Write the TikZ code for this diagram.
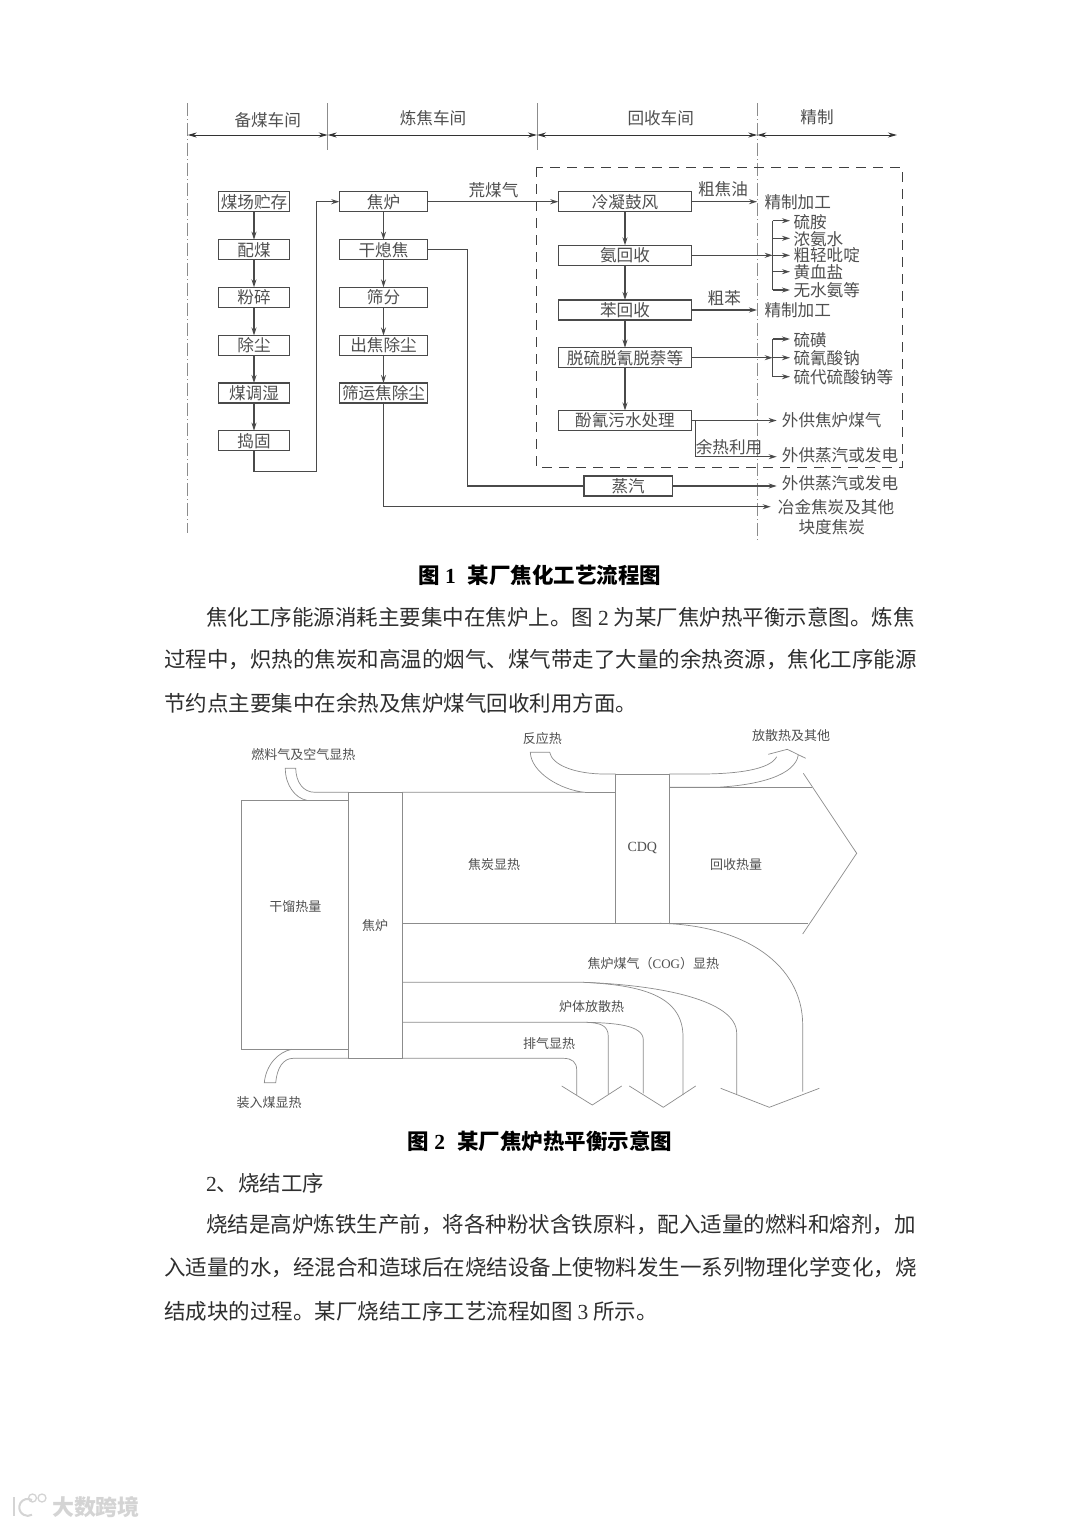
\documentclass[tikz,border=0pt]{standalone}
\usepackage{fontspec}
\setmainfont{Noto Sans CJK SC}
\newfontfamily\latinf{Liberation Serif}
\usetikzlibrary{arrows.meta}
\definecolor{lnA}{HTML}{4A4A4A}
\definecolor{lnB}{HTML}{8C8C8C}
\definecolor{txA}{HTML}{2E2E2E}
\definecolor{txB}{HTML}{4F4F4F}
\definecolor{wm}{HTML}{D4D4D4}
\tikzset{
  x=1pt,y=-1pt,
  proc/.style={draw=lnA,line width=1.2pt,minimum width=#1,minimum height=20pt,inner sep=0pt,outer sep=0pt,font=\fontsize{16.6}{17}\selectfont,text=txB},
  flow/.style={draw=lnA,line width=1.2pt,-{Stealth[length=8pt,width=5pt]}},
  plain/.style={draw=lnA,line width=1.2pt},
  both/.style={draw=black!80,line width=1pt,{Stealth[length=9pt,width=5pt]}-{Stealth[length=9pt,width=5pt]}},
  dd/.style={draw=lnB,line width=0.9pt,dash pattern=on 13pt off 3pt on 1pt off 3pt},
  lab/.style={font=\fontsize{16.6}{17}\selectfont,text=txB,inner sep=0pt},
  labl/.style={lab,anchor=west},
  sk/.style={draw=lnB,line width=0.7pt},
  sl/.style={font=\fontsize{13}{13}\selectfont,text=txB,inner sep=0pt},
  body/.style={font=\fontsize{21.5}{22}\selectfont,text=txA,inner sep=0pt,anchor=west},
  capt/.style={font=\fontsize{21.5}{22}\selectfont\bfseries,text=black,inner sep=0pt},
}
\begin{document}
\begin{tikzpicture}
\useasboundingbox[fill=white] (0,0) rectangle (1080,1527);
% ---- header
\coordinate (v1t) at (187.7,103); \coordinate (v1b) at (187.7,533);
\coordinate (v2t) at (327.7,103); \coordinate (v2b) at (327.7,150);
\coordinate (v3t) at (537,103);   \coordinate (v3b) at (537,150);
\coordinate (v4t) at (757.3,103); \coordinate (v4b) at (757.3,540);
\coordinate (h1) at (187.7,135); \coordinate (h2) at (327.7,135);
\coordinate (h3) at (537,135); \coordinate (h4) at (757.3,135); \coordinate (h5) at (897,135);
\draw[dd] (v1t)--(v1b);
\draw[dd] (v4t)--(v4b);
\draw[draw=lnB,line width=1pt] (v2t)--(v2b);
\draw[draw=lnB,line width=1pt] (v3t)--(v3b);
\draw[both] (h1)--(h2);
\draw[both] (h2)--(h3);
\draw[both] (h3)--(h4);
\draw[both] (h4)--(h5);
\node[lab] (t1) at (267.7,120) {备煤车间};
\node[lab] (t2) at (433,118) {炼焦车间};
\node[lab] (t3) at (660.7,118) {回收车间};
\node[lab] (t4) at (817,117) {精制};
% dashed box
\draw[draw=black!75,line width=0.9pt,dash pattern=on 10pt off 7pt] (536,167.3) rectangle (902.3,467.3);
% ---- column 1
\node[proc=71.4pt] (a1) at (254,201.7) {煤场贮存};
\node[proc=71.4pt] (a2) at (254,249.7) {配煤};
\node[proc=71.4pt] (a3) at (254,297.3) {粉碎};
\node[proc=71.4pt] (a4) at (254,345.5) {除尘};
\node[proc=71.4pt] (a5) at (254,393) {煤调湿};
\node[proc=71.4pt] (a6) at (254,440.7) {捣固};
\foreach \p/\q in {a1/a2,a2/a3,a3/a4,a4/a5,a5/a6} \draw[flow] (\p.south)--(\q.north);
% ---- column 2
\node[proc=88.4pt] (b1) at (383.5,201.7) {焦炉};
\node[proc=88.4pt] (b2) at (383.5,249.7) {干熄焦};
\node[proc=88.4pt] (b3) at (383.5,297.3) {筛分};
\node[proc=88.4pt] (b4) at (383.5,345.5) {出焦除尘};
\node[proc=88.4pt] (b5) at (383.5,393) {筛运焦除尘};
\foreach \p/\q in {b1/b2,b2/b3,b3/b4,b4/b5} \draw[flow] (\p.south)--(\q.north);
\draw[flow] (a6.south) |- (316.7,471.7) -- (316.7,201.7) -- (b1.west);
% ---- column 3
\node[proc=133.4pt] (c1) at (625,201.7) {冷凝鼓风};
\node[proc=133.4pt] (c2) at (625,255.3) {氨回收};
\node[proc=133.4pt] (c3) at (625,310) {苯回收};
\node[proc=133.4pt] (c4) at (625,357.7) {脱硫脱氰脱萘等};
\node[proc=133.4pt] (c5) at (625,420.5) {酚氰污水处理};
\foreach \p/\q in {c1/c2,c2/c3,c3/c4,c4/c5} \draw[flow] (\p.south)--(\q.north);
\draw[flow] (b1.east)--(c1.west);
\node[lab] (l0) at (493.5,190) {荒煤气};
\node[proc=88.3pt] (st) at (628.2,486) {蒸汽};
\draw[plain] (b2.east) -- (467.7,249.7) -- (467.7,486) -- (st.west);
% ---- right labels
\node[lab] (l1) at (723,189) {粗焦油};
\node[lab] (r1) at (797.7,201.7) {精制加工};
\coordinate (e1) at (757,201.7);
\draw[flow] (c1.east)--(e1);
\node[labl] (n1) at (793.3,222) {硫胺};
\node[labl] (n2) at (793.3,239.5) {浓氨水};
\node[labl] (n3) at (793.3,255.5) {粗轻吡啶};
\node[labl] (n4) at (793.3,272) {黄血盐};
\node[labl] (n5) at (793.3,290) {无水氨等};
\coordinate (bus1) at (772.7,255.3);
\draw[flow] (c2.east)--(bus1);
\draw[plain] (772.7,220.7)--(772.7,290);
\draw[flow] (772.7,220.7)--(790,220.7);
\draw[flow] (772.7,238.3)--(790,238.3);
\draw[flow] (bus1)--(790,255.3);
\draw[flow] (772.7,271.7)--(790,271.7);
\draw[flow] (772.7,290)--(790,290);
\node[lab] (l2) at (724.3,298) {粗苯};
\node[lab] (r2) at (797.7,310) {精制加工};
\coordinate (e2) at (757,310);
\draw[flow] (c3.east)--(e2);
\node[labl] (m1) at (793.3,340) {硫磺};
\node[labl] (m2) at (793.3,358) {硫氰酸钠};
\node[labl] (m3) at (793.3,377) {硫代硫酸钠等};
\coordinate (bus2) at (772.7,357.7);
\draw[flow] (c4.east)--(bus2);
\draw[plain] (772.7,339)--(772.7,376.7);
\draw[flow] (772.7,339)--(790,339);
\draw[flow] (bus2)--(790,357.7);
\draw[flow] (772.7,376.7)--(790,376.7);
\node[labl] (o1) at (781.7,420.5) {外供焦炉煤气};
\node[lab] (l3) at (729,446.7) {余热利用};
\node[labl] (o2) at (781.7,455) {外供蒸汽或发电};
\node[labl] (o3) at (781.7,483.3) {外供蒸汽或发电};
\node[lab] (o4) at (836,507.3) {冶金焦炭及其他};
\node[lab] (o5) at (831.7,527.3) {块度焦炭};
\coordinate (e3) at (776.7,420.5);
\draw[flow] (c5.east)--(e3);
\draw[flow] (695.3,420.5)--(695.3,456.7)--(776.7,456.7);
\draw[flow] (st.east)--(776.7,486);
\draw[flow] (b5.south)--(383.5,506.7)--(770.7,506.7);
% ---- captions and body
\node[capt] (cap1) at (540,575) {图\hspace{5pt}{\latinf\bfseries 1}\hspace{12pt}某厂焦化工艺流程图};
\node[body] (p1) at (206,617) {焦化工序能源消耗主要集中在焦炉上。图 {\latinf 2} 为某厂焦炉热平衡示意图。炼焦};
\node[body] (p2) at (164,660) {过程中，炽热的焦炭和高温的烟气、煤气带走了大量的余热资源，焦化工序能源};
\node[body] (p3) at (164,703) {节约点主要集中在余热及焦炉煤气回收利用方面。};
\node[capt] (cap2) at (540,1141) {图\hspace{5pt}{\latinf\bfseries 2}\hspace{12pt}某厂焦炉热平衡示意图};
\node[body] (p4) at (206,1183) {{\latinf 2}、烧结工序};
\node[body] (p5) at (206,1225) {烧结是高炉炼铁生产前，将各种粉状含铁原料，配入适量的燃料和熔剂，加};
\node[body] (p6) at (164,1268) {入适量的水，经混合和造球后在烧结设备上使物料发生一系列物理化学变化，烧};
\node[body] (p7) at (164,1311) {结成块的过程。某厂烧结工序工艺流程如图 {\latinf 3} 所示。};
% ---- figure 2
\draw[sk] (348.7,800.3) -- (241.7,800.3) -- (241.7,1049.3) -- (348.7,1049.3);
\draw[sk] (348.7,792.3) rectangle (402.3,1058.3);
\draw[sk] (615.7,774) rectangle (669.3,923.3);
% fuel gas
\draw[sk] (306.7,800.3) .. controls (295,798) and (285.3,785) .. (285.3,768.3) -- (295.7,768.3) .. controls (296,782) and (303,792.3) .. (315,792.3) -- (348.7,792.3);
% charge coal
\draw[sk] (291.7,1049.3) .. controls (278,1052) and (266,1065) .. (264.3,1082.7) -- (275.7,1082.7) .. controls (277,1068) and (283,1058.3) .. (293.3,1058.3) -- (348.7,1058.3);
% reaction heat
\draw[sk] (402.3,792.3) -- (585,792.3) .. controls (560,790) and (531,772) .. (530.3,752.3) -- (549.7,752.3) .. controls (552,765) and (575,774) .. (605,774) -- (615.7,774);
\draw[sk] (585,792.3) -- (615.7,792.3);
% radiation arrow
\draw[sk] (669.3,774) -- (700,774) .. controls (735,774) and (770,770) .. (776.7,756.7);
\draw[sk] (669.3,787.3) -- (716.7,787.3) .. controls (760,785) and (795,775) .. (798.3,755);
\draw[sk] (768.3,754.3) -- (787.3,749.3) -- (805.7,758.3);
% recovered heat
\draw[sk] (669.3,787.3) -- (811.7,787.3);
\draw[sk] (803.3,773.3) -- (856.7,853.3) -- (802.7,934);
\draw[sk] (402.3,923.3) -- (808.3,923.3);
% COG
\draw[sk] (660,923.3) .. controls (745,925) and (802.7,965) .. (802.7,1025) -- (802.7,1091.7);
\draw[sk] (402.3,982.3) -- (583.3,982.3) .. controls (660,985) and (736.7,1000) .. (736.7,1033.3) -- (736.7,1094);
\draw[sk] (720.7,1088.3) -- (769.3,1107.3) -- (819.3,1088.3);
% furnace body
\draw[sk] (583.3,982.3) .. controls (640,985) and (683,995) .. (683,1036.7) -- (683,1095);
\draw[sk] (402.3,1022.3) -- (586.7,1022.3) .. controls (615,1023) and (643.3,1025) .. (643.3,1040) -- (643.3,1093.3);
\draw[sk] (629.3,1086) -- (663.3,1107.3) -- (695.7,1086);
% exhaust
\draw[sk] (586.7,1022.3) .. controls (600,1023) and (608.3,1025) .. (608.3,1036.7) -- (608.3,1094);
\draw[sk] (402.3,1058.3) -- (563.3,1058.3) .. controls (572,1058.3) and (576.7,1062) .. (576.7,1070) -- (576.7,1095);
\draw[sk] (561.7,1086) -- (592.3,1105) -- (621.7,1086);
% labels fig 2
\node[sl] (s1) at (303.3,754.3) {燃料气及空气显热};
\node[sl] (s2) at (542.3,739) {反应热};
\node[sl] (s3) at (791,735.7) {放散热及其他};
\node[sl] (s4) at (295.3,906.7) {干馏热量};
\node[sl] (s5) at (375,925.7) {焦炉};
\node[sl] (s6) at (494,864.3) {焦炭显热};
\node[sl,font=\latinf\fontsize{14}{14}\selectfont] (s7) at (642.3,848.3) {CDQ};
\node[sl] (s8) at (736,864.3) {回收热量};
\node[sl] (s9) at (653.3,963.3) {焦炉煤气（{\latinf COG}）显热};
\node[sl] (s10) at (591.7,1006.7) {炉体放散热};
\node[sl] (s11) at (549,1043.3) {排气显热};
\node[sl] (s12) at (269,1102.3) {装入煤显热};
% watermark
\node[font=\fontsize{22}{22}\selectfont\bfseries,text=wm,inner sep=0pt] (w) at (96,1507) {大数跨境};
\draw[wm,line width=2pt] (13.5,1497) -- (13.5,1516);
\draw[wm,line width=2pt] (32,1500) arc (60:300:8.5pt and 8.5pt);
\draw[wm,line width=1.3pt] (32.5,1498) circle (4pt);
\draw[wm,line width=1.3pt] (42,1498) circle (4pt);
\end{tikzpicture}
\end{document}
